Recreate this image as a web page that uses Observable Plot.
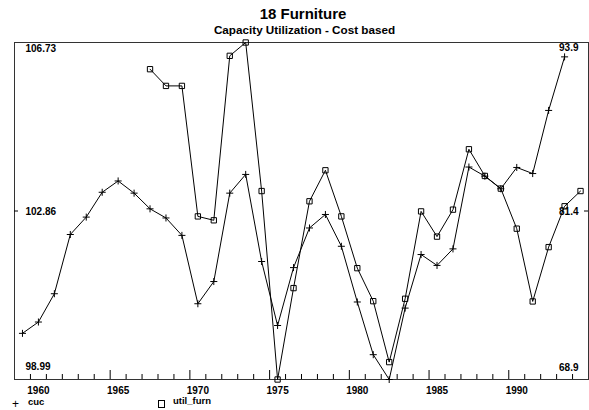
<!DOCTYPE html>
<html><head><meta charset="utf-8">
<script src="https://cdn.jsdelivr.net/npm/d3@7"></script>
<script src="https://cdn.jsdelivr.net/npm/@observablehq/plot@0.6"></script>
<style>
html,body{margin:0;padding:0;background:#fff;}
body{position:relative;width:589px;height:410px;overflow:hidden;font-family:"Liberation Sans",Arial,sans-serif;font-weight:bold;color:#000;}
#title{position:absolute;z-index:2;left:0;width:606px;top:5px;text-align:center;font-size:15px;line-height:17px;}
#subtitle{position:absolute;z-index:2;left:0;width:609px;top:24px;text-align:center;font-size:11.7px;line-height:12px;}
#chart{position:absolute;z-index:1;left:0;top:30px;}
.leg{position:absolute;z-index:2;font-size:9.5px;line-height:8px;}
.box{position:absolute;z-index:2;width:5px;height:6px;border:1px solid #000;}
</style></head>
<body>
<div id="chart"></div>
<div id="title">18 Furniture</div>
<div id="subtitle">Capacity Utilization - Cost based</div>
<div class="leg" style="left:12px;top:400px;font-size:12px;font-weight:normal;">+</div>
<div class="leg" style="left:28px;top:398px;">cuc</div>
<div class="box" style="left:158px;top:400px;"></div>
<div class="leg" style="left:173px;top:397px;">util_furn</div>
<script>
const cucYears = [1959,1960,1961,1962,1963,1964,1965,1966,1967,1968,1969,1970,1971,1972,1973,1974,1975,1976,1977,1978,1979,1980,1981,1982,1983,1984,1985,1986,1987,1988,1989,1990,1991,1992,1993];
const cucValues = [100.05,100.31,100.96,102.32,102.72,103.29,103.55,103.27,102.91,102.70,102.30,100.73,101.24,103.27,103.70,101.70,100.23,101.56,102.47,102.78,102.05,100.77,99.56,98.99,100.63,101.86,101.61,101.99,103.87,103.66,103.37,103.86,103.72,105.17,106.40];
const utilYears = [1967,1968,1969,1970,1971,1972,1973,1974,1975,1976,1977,1978,1979,1980,1981,1982,1983,1984,1985,1986,1987,1988,1989,1990,1991,1992,1993,1994];
const utilValues = [91.92,90.68,90.68,81.00,80.71,92.91,93.9,82.88,68.9,75.68,82.12,84.42,81.00,77.16,74.71,70.19,74.89,81.37,79.50,81.50,85.98,84.00,83.06,80.09,74.69,78.72,81.75,82.88];
const leftTicks = [98.99, 102.86, 106.73];
const rightTicks = [68.9, 81.4, 93.9];
const xLabels = [1960,1965,1970,1975,1980,1985,1990];
const minorTicks = [1959.5,1960.5,1961.5,1962.5,1963.5,1965.5,1966.5,1967.5,1968.5,1970.5,1971.5,1972.5,1973.5,1975.5,1976.5,1977.5,1978.5,1980.5,1981.5,1982.5,1983.5,1985.5,1986.5,1987.5,1988.5,1990.5,1991.5,1992.5,1993.5];
const majorTicks = [1964.5,1969.5,1974.5,1979.5,1984.5,1989.5];

const cuc = cucYears.map((y,i)=>({year:y, v:cucValues[i]}));
const util = utilYears.map((y,i)=>({year:y, v:utilValues[i]}));
// map right-axis values into the left-axis scale
const toLeft = v => leftTicks[0] + (v - rightTicks[0]) / (rightTicks[2] - rightTicks[0]) * (leftTicks[2] - leftTicks[0]);

const W = 589, H = 370, mT = 12, mB = 21, mL = 14, mR = 1;
const innerH = H - mT - mB, innerW = W - mL - mR;

const chart = Plot.plot({
  width: W, height: H,
  marginTop: mT, marginBottom: mB, marginLeft: mL, marginRight: mR,
  style: {fontFamily: "'Liberation Sans', Arial, sans-serif", fontSize: "10px", fontWeight: "bold", color: "#000", background: "transparent"},
  x: {domain: [1958.5, 1994.5], axis: null},
  y: {domain: [leftTicks[0], leftTicks[2]], axis: null},
  marks: [
    Plot.frame({stroke: "#333", strokeWidth: 1}),
    Plot.tickX(minorTicks, {x: d => d, stroke: "#000", insetTop: innerH - 5}),
    Plot.tickX(majorTicks, {x: d => d, stroke: "#000", insetTop: innerH - 9}),
    Plot.tickY([leftTicks[1]], {y: d => d, stroke: "#000", insetRight: innerW - 4}),
    Plot.tickY([toLeft(rightTicks[1])], {y: d => d, stroke: "#000", insetLeft: innerW - 4}),
    Plot.axisX(xLabels, {tickSize: 0, tickPadding: 7, label: null, tickFormat: d => String(d), fontWeight: "bold", fontSize: 10}),
    // left axis labels
    Plot.text([leftTicks[2]], {y: d => d, text: d => d.toFixed(2), frameAnchor: "left", textAnchor: "start", dx: 11, dy: 6}),
    Plot.text([leftTicks[1]], {y: d => d, text: d => d.toFixed(2), frameAnchor: "left", textAnchor: "start", dx: 11, dy: 1}),
    Plot.text([leftTicks[0]], {y: d => d, text: d => d.toFixed(2), frameAnchor: "left", textAnchor: "start", dx: 11, dy: -13}),
    // right axis labels
    Plot.text([rightTicks[2]], {y: d => toLeft(d), text: d => String(d), frameAnchor: "right", textAnchor: "end", dx: -10, dy: 5}),
    Plot.text([rightTicks[1]], {y: d => toLeft(d), text: d => String(d), frameAnchor: "right", textAnchor: "end", dx: -10, dy: 1}),
    Plot.text([rightTicks[0]], {y: d => toLeft(d), text: d => String(d), frameAnchor: "right", textAnchor: "end", dx: -10, dy: -12}),
    // series
    Plot.line(cuc, {x: "year", y: "v", stroke: "#000", strokeWidth: 1}),
    Plot.line(util, {x: "year", y: d => toLeft(d.v), stroke: "#000", strokeWidth: 1}),
    Plot.dot(cuc, {x: "year", y: "v", symbol: "plus", r: 2.4, stroke: "#000", strokeWidth: 1}),
    Plot.dot(util, {x: "year", y: d => toLeft(d.v), symbol: "square", r: 3, stroke: "#000", fill: "none", strokeWidth: 1})
  ]
});
document.getElementById("chart").appendChild(chart);
</script>
</body></html>
